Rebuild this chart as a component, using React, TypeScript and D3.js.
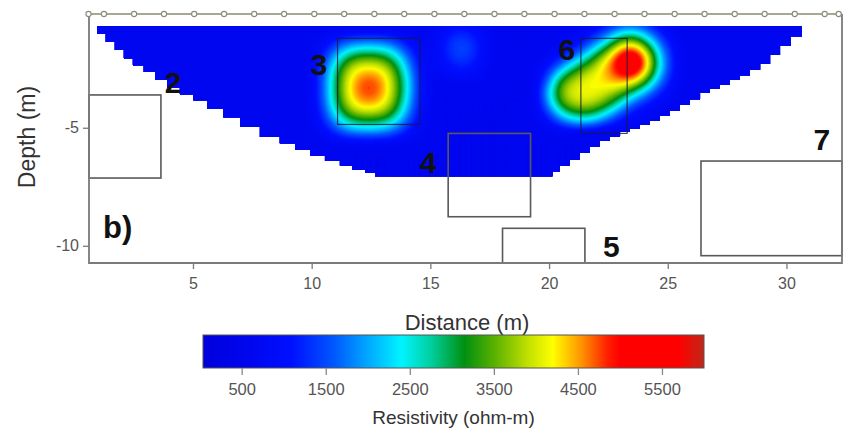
import * as d3 from "d3";
import { useRef, useEffect } from "react";

const width = 866;
const height = 434;
const font = "'Liberation Sans', Arial, sans-serif";

// axis ticks
const xTicks = [5, 10, 15, 20, 25, 30];
const yTicks = [-5, -10];
const colorTicks = [500, 1500, 2500, 3500, 4500, 5500];

// colour bar (ohm-m -> colour)
const stopValues = [40, 700, 1100, 1600, 2000, 2400, 2750, 3150, 3500, 3900, 4200, 4550, 4850, 5000, 5700, 6000];
const stopColors = [
  "#0000dc", "#0008f2", "#0010ff", "#0058ff", "#00a8ff", "#00f4ff", "#00d0a0", "#009010",
  "#58b000", "#c0e000", "#ffff00", "#ff9000", "#ff2000", "#ff0000", "#ff0000", "#c02818",
];

// electrode positions along the line (m)
const electrodeX = [
  0.6, 1.25, 2.52, 3.78, 5.05, 6.31, 7.58, 8.84, 10.11, 11.37, 12.64, 13.9, 15.17, 16.43,
  17.7, 18.96, 20.23, 21.49, 22.76, 24.02, 25.29, 26.55, 27.82, 29.08, 30.35, 31.61, 32.2,
];

// stepped outline of the inverted section (x in m, depth in m)
const leftEdgeX = [0.96, 1.33, 1.71, 2.09, 2.47, 2.93, 3.4, 3.92, 4.45, 5.02, 5.59, 6.28, 6.98, 7.82, 8.66, 9.3, 9.93, 10.56, 11.19, 11.72, 12.25, 12.67, 13.09];
const leftEdgeDepth = [0.69, 1.03, 1.37, 1.71, 2.05, 2.35, 2.64, 2.98, 3.32, 3.58, 3.83, 4.19, 4.55, 4.97, 5.39, 5.66, 5.94, 6.18, 6.41, 6.6, 6.79, 6.92, 7.05];
const rightEdgeX = [30.65, 30.19, 29.73, 29.31, 28.89, 28.46, 28.04, 27.62, 27.2, 26.78, 26.36, 25.93, 25.51, 25.09, 24.67, 24.25, 23.83, 23.41, 22.99, 22.56, 22.14, 21.72, 21.3, 20.88, 20.46, 20.14, 19.83];
const rightEdgeDepth = [0.69, 1.12, 1.54, 1.92, 2.3, 2.54, 2.77, 2.98, 3.19, 3.36, 3.53, 3.79, 4.04, 4.27, 4.5, 4.69, 4.88, 5.03, 5.18, 5.37, 5.56, 5.82, 6.07, 6.35, 6.62, 6.84, 7.05];

// background resistivity of the section (ohm-m)
const background = 600;

// anomaly 3 (resistivity grid, ohm-m)
const patch3X = [10, 10.5, 11, 11.5, 12, 12.5, 13, 13.5, 14, 14.5, 15];
const patch3Depth = [1, 1.5, 2, 2.5, 3, 3.5, 4, 4.5, 5, 5.5];
const patch3Values = [
  [520, 700, 820, 980, 1030, 1030, 1020, 930, 780, 620, 470],
  [650, 930, 1400, 1800, 2000, 2030, 1980, 1670, 1170, 790, 540],
  [720, 1220, 2140, 3020, 3370, 3390, 3270, 2710, 1750, 980, 620],
  [790, 1470, 2740, 3800, 4280, 4340, 4150, 3450, 2170, 1110, 680],
  [800, 1550, 2950, 4080, 4700, 4820, 4570, 3680, 2500, 1150, 690],
  [800, 1550, 2950, 4100, 4750, 4900, 4590, 3700, 2500, 1150, 690],
  [790, 1490, 2800, 3900, 4430, 4500, 4280, 3520, 2250, 1120, 680],
  [740, 1260, 2300, 3250, 3580, 3620, 3500, 2920, 1850, 1010, 640],
  [680, 990, 1530, 2030, 2250, 2280, 2200, 1850, 1260, 810, 550],
  [530, 710, 920, 1080, 1150, 1150, 1120, 1020, 820, 660, 480],
];

// anomaly 6
const patch6X = [19.5, 20, 20.5, 21, 21.5, 22, 22.5, 23, 23.5, 24, 24.5, 25, 25.5];
const patch6Depth = [0.5, 1, 1.5, 2, 2.5, 3, 3.5, 4, 4.5, 5];
const patch6Values = [
  [450, 450, 450, 500, 590, 770, 940, 1180, 1240, 1110, 860, 690, 520],
  [450, 460, 500, 650, 820, 1140, 1590, 2250, 2440, 2040, 1370, 880, 620],
  [470, 550, 720, 890, 1300, 1980, 2920, 4130, 4500, 3640, 2190, 1230, 760],
  [580, 790, 1080, 1530, 2400, 3390, 4240, 5270, 5710, 4860, 2920, 1440, 830],
  [740, 1180, 1950, 2980, 3600, 4050, 4580, 5328, 5690, 4860, 2920, 1440, 830],
  [850, 1700, 3400, 3900, 4150, 4250, 4414, 4590, 4497, 3640, 2190, 1230, 760],
  [950, 2300, 3700, 4100, 4200, 4150, 3950, 3600, 2820, 2010, 1370, 880, 620],
  [900, 1900, 3400, 3900, 4000, 3800, 3300, 2400, 1500, 1150, 860, 690, 520],
  [760, 1250, 2100, 2700, 2900, 2600, 1900, 1250, 880, 730, 580, 470, 450],
  [580, 790, 1070, 1330, 1360, 1140, 850, 760, 620, 520, 470, 450, 450],
];

// weak lighter zone between the anomalies
const patchCX = [15, 15.5, 16, 16.5, 17, 17.5];
const patchCDepth = [0.5, 1, 1.5, 2, 2.5, 3];
const patchCValues = [
  [620, 680, 800, 820, 700, 620],
  [660, 950, 1250, 1300, 1000, 700],
  [700, 1100, 1450, 1500, 1200, 760],
  [680, 1050, 1400, 1450, 1150, 740],
  [640, 850, 1100, 1150, 900, 660],
  [600, 660, 760, 780, 680, 600],
];

// interpreted target boxes (x0, x1 in m; top / bottom depth in m)
const boxX0 = [0.62, 11.09, 15.75, 18.04, 21.34, 26.4];
const boxX1 = [3.65, 14.56, 19.22, 21.51, 23.29, 32.34];
const boxTop = [3.61, 1.21, 5.24, 9.26, 1.21, 6.41];
const boxBottom = [7.13, 4.86, 8.77, 10.73, 5.24, 10.42];
const boxInSection = [false, true, false, false, true, false];

// target labels
const labelText = ["2", "3", "4", "5", "6", "7"];
const labelX = [4.16, 10.3, 14.9, 22.62, 20.75, 31.49];
const labelDepth = [3.53, 2.75, 6.92, 10.48, 2.13, 5.94];

export default function App() {
  const gxRef = useRef<SVGGElement>(null);
  const gyRef = useRef<SVGGElement>(null);
  const gcRef = useRef<SVGGElement>(null);

  const margin = { top: 14, right: 24, bottom: 171, left: 89 };
  const x = d3.scaleLinear().domain([0.62, 32.34]).range([margin.left, width - margin.right]);
  const y = d3.scaleLinear().domain([-10.73, -0.18]).range([height - margin.bottom, margin.top]);
  const color = d3.scaleLinear<string>().domain(stopValues).range(stopColors).interpolate(d3.interpolateRgb).clamp(true);
  const cx = d3.scaleLinear().domain([40, 6000]).range([203, 704]);
  const barTop = 335;
  const barBottom = 368;

  // resistivity field on a fine grid
  const gx0 = 0.5, gd0 = 0.5, cell = 0.1, nx = 311, ny = 71;
  const samplePatch = (px: number[], pd: number[], vals: number[][], xv: number, dv: number) => {
    if (xv < px[0] || xv > px[px.length - 1] || dv < pd[0] || dv > pd[pd.length - 1]) return -Infinity;
    const i = Math.min(px.length - 2, d3.bisectRight(px, xv) - 1);
    const j = Math.min(pd.length - 2, d3.bisectRight(pd, dv) - 1);
    const tx = (xv - px[i]) / (px[i + 1] - px[i]);
    const ty = (dv - pd[j]) / (pd[j + 1] - pd[j]);
    const a = vals[j][i], b = vals[j][i + 1], c = vals[j + 1][i], e = vals[j + 1][i + 1];
    return (a * (1 - tx) + b * tx) * (1 - ty) + (c * (1 - tx) + e * tx) * ty;
  };
  const values = new Float64Array(nx * ny);
  for (let j = 0; j < ny; j++) {
    for (let i = 0; i < nx; i++) {
      const xv = gx0 + i * cell;
      const dv = gd0 + j * cell;
      values[j * nx + i] = Math.max(
        background,
        samplePatch(patch3X, patch3Depth, patch3Values, xv, dv),
        samplePatch(patch6X, patch6Depth, patch6Values, xv, dv),
        samplePatch(patchCX, patchCDepth, patchCValues, xv, dv)
      );
    }
  }
  d3.blur2({ data: values, width: nx, height: ny }, 2);
  const contours = d3.contours().size([nx, ny]).thresholds(d3.range(100, 6000, 50))(Array.from(values));
  const proj = d3.geoTransform({
    point(px: number, py: number) {
      this.stream.point(x(gx0 + (px - 0.5) * cell), y(-(gd0 + (py - 0.5) * cell)));
    },
  });
  const geo = d3.geoPath(proj);

  // stepped outline polygon
  const outline: [number, number][] = [];
  rightEdgeX.forEach((xv, i) => {
    outline.push([xv, rightEdgeDepth[i]]);
    if (i < rightEdgeX.length - 1) outline.push([xv, rightEdgeDepth[i + 1]]);
  });
  for (let i = leftEdgeX.length - 1; i >= 0; i--) {
    outline.push([leftEdgeX[i], leftEdgeDepth[i]]);
    if (i > 0) outline.push([leftEdgeX[i - 1], leftEdgeDepth[i]]);
  }
  const outlinePath = d3.line<[number, number]>().x((d) => x(d[0])).y((d) => y(-d[1]))(outline) + "Z";

  useEffect(() => {
    const gx = d3.select(gxRef.current);
    gx.call(d3.axisBottom(x).tickValues(xTicks).tickSize(6).tickPadding(9));
    gx.select(".domain").remove();
    gx.selectAll("line").attr("stroke", "#7a7a7a").attr("stroke-width", 1.3);
    gx.selectAll("text").attr("fill", "#555").attr("font-size", 16).attr("font-family", font);

    const gy = d3.select(gyRef.current);
    gy.call(d3.axisLeft(y).tickValues(yTicks).tickSize(6).tickPadding(4).tickFormat((d) => String(d)));
    gy.select(".domain").remove();
    gy.selectAll("line").attr("stroke", "#7a7a7a").attr("stroke-width", 1.3);
    gy.selectAll("text").attr("fill", "#555").attr("font-size", 16).attr("font-family", font);

    const gc = d3.select(gcRef.current);
    gc.call(d3.axisBottom(cx).tickValues(colorTicks).tickSize(7).tickPadding(8).tickFormat(d3.format("d")));
    gc.select(".domain").remove();
    gc.selectAll("line").attr("stroke", "#888").attr("stroke-width", 1.3);
    gc.selectAll("text").attr("fill", "#555").attr("font-size", 16.5).attr("font-family", font);
  }, []);

  return (
    <svg width={width} height={height} style={{ position: "absolute", left: 0, top: 0, background: "#fff" }}>
      <defs>
        <clipPath id="section">
          <path d={outlinePath} />
        </clipPath>
        <linearGradient id="bar" x1="0" x2="1" y1="0" y2="0">
          {stopValues.map((v, i) => (
            <stop key={i} offset={(v - 40) / (6000 - 40)} stopColor={stopColors[i]} />
          ))}
        </linearGradient>
      </defs>

      <g clipPath="url(#section)">
        {contours.map((c, i) => (
          <path key={i} d={geo(c as any) || ""} fill={color(c.value + 25)} stroke={color(c.value + 25)} strokeWidth={0.5} />
        ))}
      </g>

      {boxX0.map((x0, i) => (
        <rect
          key={i}
          x={x(x0)}
          y={y(-boxTop[i])}
          width={x(boxX1[i]) - x(x0)}
          height={y(-boxBottom[i]) - y(-boxTop[i])}
          fill="none"
          stroke={boxInSection[i] ? "#1a1a3a" : "#595959"}
          strokeOpacity={boxInSection[i] ? 0.8 : 1}
          strokeWidth={boxInSection[i] ? 1.2 : 1.6}
        />
      ))}

      {labelText.map((t, i) => (
        <text key={i} x={x(labelX[i])} y={y(-labelDepth[i])} textAnchor="middle" fontFamily={font} fontWeight="bold" fontSize={30} fill="#111">
          {t}
        </text>
      ))}
      <text x={x(1.21)} y={y(-9.68)} fontFamily={font} fontWeight="bold" fontSize={31} fill="#111">
        b)
      </text>

      {/* frame */}
      <path
        d={`M${x(0.62)},${y(-0.18)}V${y(-10.73)}H${x(32.34)}V${y(-0.18)}`}
        fill="none"
        stroke="#7a7a7a"
        strokeWidth={1.8}
      />
      <line x1={x(0.62)} x2={x(32.34)} y1={y(-0.18)} y2={y(-0.18)} stroke="#8c8a70" strokeWidth={1.6} />
      {electrodeX.map((e, i) => (
        <circle key={i} cx={x(e)} cy={y(-0.18)} r={2.6} fill="#fff" stroke="#8a8a80" strokeWidth={1.1} />
      ))}

      <g ref={gxRef} transform={`translate(0,${height - margin.bottom})`} />
      <g ref={gyRef} transform={`translate(${margin.left},0)`} />

      <text x={467} y={330} textAnchor="middle" fontFamily={font} fontSize={22} fill="#333">
        Distance (m)
      </text>
      <text transform={`translate(35,137) rotate(-90)`} textAnchor="middle" fontFamily={font} fontSize={23} fill="#333">
        Depth (m)
      </text>

      {/* colour bar */}
      <rect x={cx(40)} y={barTop} width={cx(6000) - cx(40)} height={barBottom - barTop} fill="url(#bar)" stroke="#555" strokeWidth={1} />
      <g ref={gcRef} transform={`translate(0,${barBottom})`} />
      <text x={(cx(40) + cx(6000)) / 2} y={424} textAnchor="middle" fontFamily={font} fontSize={19} fill="#333">
        Resistivity (ohm-m)
      </text>
    </svg>
  );
}
